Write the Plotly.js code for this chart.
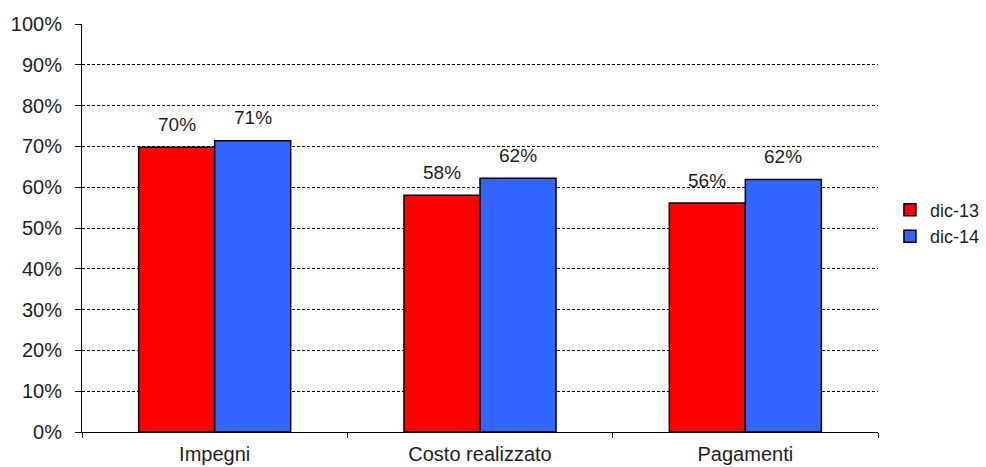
<!DOCTYPE html>
<html>
<head>
<meta charset="utf-8">
<script src="https://cdn.plot.ly/plotly-3.0.1.min.js"></script>
<style>html,body{margin:0;padding:0;background:#fff;}#chart{width:986px;height:467px;}</style>
</head>
<body>
<div id="chart"></div>
<script>
var categories = ["Impegni", "Costo realizzato", "Pagamenti"];
var seriesNames = ["dic-13", "dic-14"];
var dic13 = [0.698, 0.580, 0.561];
var dic14 = [0.714, 0.622, 0.619];
var seriesValues = [dic13, dic14];
var seriesColors = ["#FF0000", "#3366FF"];

var FONT = "Liberation Sans, Arial, sans-serif";
var TXT = "#1e1e1e";
var margin = {l: 82, r: 108, t: 24, b: 35, autoexpand: false};
var W = 986, H = 467;
var bargap = 0.427;

var traces = seriesValues.map(function (vals, i) {
  return {
    type: "bar",
    name: seriesNames[i],
    x: categories,
    y: vals,
    marker: {color: seriesColors[i], line: {color: "#000", width: 1.5}},
    hoverinfo: "skip"
  };
});

var plotW = W - margin.l - margin.r;
var catW = plotW / categories.length;
var barW = catW * (1 - bargap) / seriesValues.length;

var annotations = [];
seriesValues.forEach(function (vals, i) {
  vals.forEach(function (v, j) {
    annotations.push({
      xref: "x", yref: "y", x: categories[j], y: v,
      text: Math.round(v * 100) + "%",
      showarrow: false,
      xshift: (i - (seriesValues.length - 1) / 2) * barW,
      yshift: 23,
      yanchor: "middle",
      font: {family: FONT, size: 19, color: TXT}
    });
  });
});

var layout = {
  width: W, height: H,
  margin: margin,
  paper_bgcolor: "#fff", plot_bgcolor: "#fff",
  barmode: "group", bargap: bargap, bargroupgap: 0,
  showlegend: true,
  legend: {
    x: 1.015, xanchor: "left", y: 0.512, yanchor: "middle",
    font: {family: FONT, size: 18, color: TXT},
    itemwidth: 30, bgcolor: "rgba(0,0,0,0)"
  },
  xaxis: {
    type: "category",
    showline: true, linecolor: "#000", linewidth: 1,
    ticks: "outside", tickson: "boundaries", ticklen: 5, tickcolor: "#000",
    showgrid: false, ticklabelstandoff: 4,
    tickfont: {family: FONT, size: 20, color: TXT}
  },
  yaxis: {
    range: [0, 1], dtick: 0.1, tickformat: ".0%",
    showline: true, linecolor: "#000", linewidth: 1,
    ticks: "outside", ticklen: 6, tickcolor: "#000",
    showgrid: true, gridcolor: "#000", gridwidth: 1, griddash: "3px,2px",
    zeroline: false, ticklabelstandoff: 9,
    tickfont: {family: FONT, size: 20, color: TXT}
  },
  annotations: annotations
};

Plotly.newPlot("chart", traces, layout, {displayModeBar: false, staticPlot: true});
</script>
</body>
</html>
